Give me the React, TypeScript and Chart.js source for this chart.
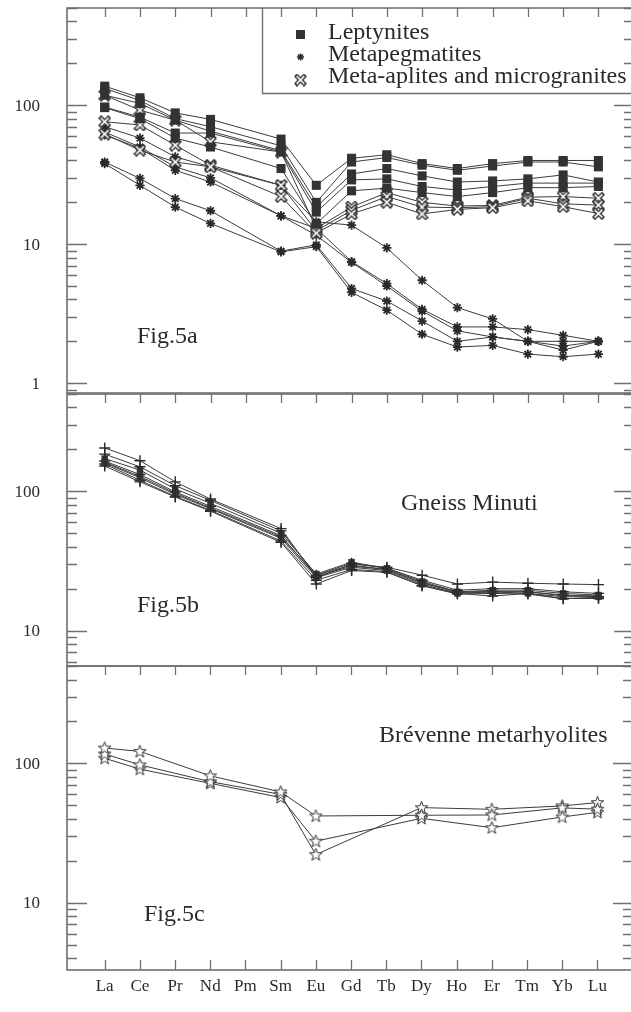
import React, { useEffect, useRef } from 'react';
import { Chart, registerables } from 'chart.js';
Chart.register(...registerables);

const N = null;

// Rare earth elements (x categories)
const categories = ['La', 'Ce', 'Pr', 'Nd', 'Pm', 'Sm', 'Eu', 'Gd', 'Tb', 'Dy', 'Ho', 'Er', 'Tm', 'Yb', 'Lu'];
const yTickLabels = [1, 10, 100];

// Fig.5a — Leptynites (filled squares)
const lep1 = [137, 113, 88, 79, N, 57, 26.5, 41.5, 44, 38, 35, 38, 40, 40, 40];
const lep2 = [132, 108, 80, 70, N, 51, 20, 39, 42, 37, 34, 36.5, 39, 39, 36];
const lep3 = [118, 103, 78, 65, N, 47, 18.5, 32, 35, 31, 28, 28.5, 29.5, 31.5, 28];
const lep4 = [97, 82, 63, 63, N, 46, 17, 29, 29.5, 26, 24.5, 26, 27.5, 27.5, 27.5];
const lep5 = [96, 80, 58, 50, N, 35, 14, 24.2, 25.3, 23.5, 22, 23.5, 25.5, 25.5, 26];
// Fig.5a — Metapegmatites (asterisks)
const peg1 = [70, 58, 42.5, 36, N, 26.5, 14.5, 13.7, 9.4, 5.5, 3.5, 2.9, 2.0, 1.73, 2.0];
const peg2 = [64, 50, 36, 30, N, 16, 13, 7.5, 5.2, 3.4, 2.54, 2.54, 2.43, 2.21, 2.0];
const peg3 = [61, 49, 34, 28, N, 16, 11.6, 7.4, 5.0, 3.3, 2.38, 2.15, 2.0, 2.0, 2.0];
const peg4 = [39, 29.7, 21.3, 17.4, N, 8.9, 9.9, 4.8, 3.9, 2.8, 2.0, 2.15, 2.0, 1.85, 2.0];
const peg5 = [38, 26.5, 18.5, 14.1, N, 8.8, 9.6, 4.5, 3.35, 2.25, 1.82, 1.87, 1.62, 1.55, 1.62];
// Fig.5a — Meta-aplites and microgranites (hollow crosses)
const apl1 = [62, 47.4, 39, 36, N, 22, 12, 16.5, 20, 16.5, 17.8, 18.3, 20.5, 18.6, 16.6];
const apl2 = [76, 72, 51.5, 37, N, 26.5, 12.5, 17.5, 22, 18.5, 18.3, 18.6, 21.4, 19.5, 19.1];
const apl3 = [118, 92, 78, 54.5, N, 46, 13, 18.5, 23.5, 20, 18.8, 19, 21.8, 22, 21.4];

// Fig.5b — Gneiss Minuti
const gn1 = [205, 166, 117, 88, N, 54, 24, 30, 28.5, 25, 21.6, 22.3, 21.9, 21.6, 21.4];
const gn2 = [185, 150, 110, 86, N, 52, 25, 30.5, 28, 23, 19.5, 20, 20, 19, 18.5];
const gn3 = [172, 142, 104, 82, N, 50, 25.5, 31, 28, 22.5, 19, 19.5, 19.5, 18.5, 18];
const gn4 = [165, 132, 99, 78, N, 48, 24.5, 29, 27.5, 22, 19, 19, 19, 18, 17.5];
const gn5 = [160, 125, 95, 75, N, 46, 24, 28.5, 27, 21.5, 18.5, 19, 18.5, 17.5, 17.5];
const gn6 = [157, 120, 92, 73, N, 44, 23, 27.5, 26.5, 21, 18.5, 17.7, 18.5, 17, 17];
const gn7 = [152, 117, 91, 72, N, 43, 21.6, 27, 26.2, 21, 18.3, 18.5, 18.3, 16.9, 17.4];
const gn8 = [162, 128, 97, 76, N, 47, 25, 29.5, 27.5, 22, 18.8, 19, 19, 17.8, 17.8];

// Fig.5c — Brévenne metarhyolites (hollow stars)
const brv1 = [129, 122, N, 81.5, N, 62.5, 42, N, N, 42.5, N, 42.7, N, 48, 47];
const brv2 = [117, 97.7, N, 74, N, 60, 22.2, N, N, 48.2, N, 46.9, N, 49.6, 52.4];
const brv3 = [109, 91, N, 72, N, 57, 27.7, N, N, 40.4, N, 34.6, N, 41.3, 44.6];

const legendLabels = ['Leptynites', 'Metapegmatites', 'Meta-aplites and microgranites'];

const CANVAS_W = 641;
const CANVAS_H = 1012;
const PLOT_LEFT = 67;
const PLOT_RIGHT = 638;
const X_MIN = -1.07;
const X_MAX = 15.01;
const INK = '#2a2a2a';
const LINE = '#3c3c3c';
const FRAME = '#707070';
const SERIF = '"Liberation Serif", "Times New Roman", serif';

function makeHollowX(): HTMLCanvasElement {
  const c = document.createElement('canvas');
  c.width = 13;
  c.height = 13;
  const g = c.getContext('2d')!;
  g.lineCap = 'square';
  g.strokeStyle = '#333';
  g.lineWidth = 4.4;
  g.beginPath();
  g.moveTo(3, 3); g.lineTo(10, 10);
  g.moveTo(10, 3); g.lineTo(3, 10);
  g.stroke();
  g.strokeStyle = '#fff';
  g.lineWidth = 1.6;
  g.beginPath();
  g.moveTo(3.2, 3.2); g.lineTo(9.8, 9.8);
  g.moveTo(9.8, 3.2); g.lineTo(3.2, 9.8);
  g.stroke();
  return c;
}

function makeHollowStar(): HTMLCanvasElement {
  const c = document.createElement('canvas');
  c.width = 15;
  c.height = 15;
  const g = c.getContext('2d')!;
  const cx = 7.5, cy = 7.8, ro = 6.6, ri = 2.7;
  g.beginPath();
  for (let k = 0; k < 10; k++) {
    const r = k % 2 === 0 ? ro : ri;
    const a = -Math.PI / 2 + (k * Math.PI) / 5;
    const px = cx + r * Math.cos(a), py = cy + r * Math.sin(a);
    if (k === 0) g.moveTo(px, py); else g.lineTo(px, py);
  }
  g.closePath();
  g.fillStyle = '#fff';
  g.fill();
  g.strokeStyle = '#333';
  g.lineWidth = 1;
  g.stroke();
  return c;
}

function toPoints(arr: (number | null)[]) {
  return arr
    .map((v, i) => (v == null ? null : { x: i, y: v }))
    .filter((p) => p !== null) as { x: number; y: number }[];
}

function series(arr: (number | null)[], marker: any) {
  return {
    data: toPoints(arr),
    borderColor: LINE,
    borderWidth: 1,
    fill: false,
    tension: 0,
    ...marker,
  };
}

function drawText(ctx: CanvasRenderingContext2D, text: string, x: number, y: number, size: number) {
  ctx.font = `${size}px ${SERIF}`;
  ctx.fillStyle = INK;
  ctx.textAlign = 'left';
  ctx.textBaseline = 'alphabetic';
  ctx.fillText(text, x, y);
}

type Panel = {
  id: string;
  top: number;
  bottom: number;
  yMin: number;
  yMax: number;
  bottomTicks: boolean;
  xLabels: boolean;
  datasets: any[];
  extra: (ctx: CanvasRenderingContext2D, chart: any) => void;
};

function decorPlugin(panel: Panel) {
  return {
    id: 'decor' + panel.id,
    afterDraw(chart: any) {
      const { ctx, chartArea: a, scales } = chart;
      const xs = scales.x;
      const ys = scales.y;
      ctx.save();
      panel.extra(ctx, chart);
      // minor and major y ticks, both sides, pointing inward
      ctx.strokeStyle = FRAME;
      ctx.lineWidth = 1.3;
      for (const dec of [0.1, 1, 10, 100, 1000]) {
        for (let m = 1; m <= 9; m++) {
          const v = m * dec;
          if (v < panel.yMin || v > panel.yMax) continue;
          const y = Math.round(ys.getPixelForValue(v)) + 0.5;
          const len = m === 1 ? 20 : 10;
          ctx.beginPath();
          ctx.moveTo(a.left, y); ctx.lineTo(a.left + len, y);
          ctx.moveTo(a.right - len, y); ctx.lineTo(a.right, y);
          ctx.stroke();
        }
      }
      // x category ticks
      categories.forEach((_, i) => {
        const x = Math.round(xs.getPixelForValue(i)) + 0.5;
        ctx.beginPath();
        ctx.moveTo(x, a.top); ctx.lineTo(x, a.top + 9);
        if (panel.bottomTicks) { ctx.moveTo(x, a.bottom); ctx.lineTo(x, a.bottom - 10); }
        ctx.stroke();
      });
      // frame
      ctx.lineWidth = 1.6;
      ctx.strokeRect(a.left, a.top, a.right - a.left, a.bottom - a.top);
      // y labels
      ctx.font = `17px ${SERIF}`;
      ctx.fillStyle = INK;
      ctx.textAlign = 'right';
      ctx.textBaseline = 'middle';
      for (const v of yTickLabels) {
        if (v < panel.yMin || v > panel.yMax) continue;
        ctx.fillText(String(v), 40, ys.getPixelForValue(v) + 1);
      }
      if (panel.xLabels) {
        ctx.textAlign = 'center';
        ctx.textBaseline = 'middle';
        categories.forEach((c, i) => {
          ctx.fillText(c, xs.getPixelForValue(i), 987);
        });
      }
      ctx.restore();
    },
  };
}

function buildConfig(panel: Panel): any {
  return {
    type: 'line',
    data: { datasets: panel.datasets },
    options: {
      animation: false,
      responsive: false,
      events: [],
      layout: {
        padding: {
          left: PLOT_LEFT,
          right: CANVAS_W - PLOT_RIGHT,
          top: panel.top,
          bottom: CANVAS_H - panel.bottom,
        },
      },
      plugins: { legend: { display: false }, tooltip: { enabled: false } },
      scales: {
        x: { type: 'linear', display: false, min: X_MIN, max: X_MAX },
        y: { type: 'logarithmic', display: false, min: panel.yMin, max: panel.yMax },
      },
    },
    plugins: [decorPlugin(panel)],
  };
}

export default function App() {
  const refA = useRef<HTMLCanvasElement>(null);
  const refB = useRef<HTMLCanvasElement>(null);
  const refC = useRef<HTMLCanvasElement>(null);

  useEffect(() => {
    const hollowX = makeHollowX();
    const hollowStar = makeHollowStar();
    const square = { pointStyle: 'rect', pointRadius: 6.4, pointBackgroundColor: '#333', pointBorderColor: '#333', pointBorderWidth: 0 };
    const asterisk = { pointStyle: 'star', pointRadius: 4.6, pointBorderColor: '#2a2a2a', pointBorderWidth: 1.8, pointBackgroundColor: '#2a2a2a' };
    const xMark = { pointStyle: hollowX, pointRadius: 6 };
    const plus = { pointStyle: 'cross', pointRadius: 5.5, pointBorderColor: '#2a2a2a', pointBorderWidth: 1.4 };
    const smallSquare = { pointStyle: 'rect', pointRadius: 4.6, pointBackgroundColor: '#333', pointBorderColor: '#333', pointBorderWidth: 0 };
    const star = { pointStyle: hollowStar, pointRadius: 7 };

    const panelA: Panel = {
      id: 'A', top: 8, bottom: 393, yMin: 0.85, yMax: 500, bottomTicks: false, xLabels: false,
      datasets: [
        series(lep1, square), series(lep2, square), series(lep3, square), series(lep4, square), series(lep5, square),
        series(apl1, xMark), series(apl2, xMark), series(apl3, xMark),
        series(peg1, asterisk), series(peg2, asterisk), series(peg3, asterisk), series(peg4, asterisk), series(peg5, asterisk),
      ],
      extra: (ctx) => {
        // legend box
        ctx.fillStyle = '#fff';
        ctx.fillRect(262, 8, PLOT_RIGHT - 262, 85);
        ctx.strokeStyle = FRAME;
        ctx.lineWidth = 1.4;
        ctx.beginPath();
        ctx.moveTo(262.5, 8); ctx.lineTo(262.5, 93.5); ctx.lineTo(PLOT_RIGHT, 93.5);
        ctx.stroke();
        // legend markers
        ctx.fillStyle = '#333';
        ctx.fillRect(296, 30, 9, 9);
        ctx.strokeStyle = '#2a2a2a';
        ctx.lineWidth = 1.5;
        const ax = 300.5, ay = 57, r = 3.6;
        ctx.beginPath();
        for (let k = 0; k < 4; k++) {
          const ang = (k * Math.PI) / 4;
          ctx.moveTo(ax - r * Math.cos(ang), ay - r * Math.sin(ang));
          ctx.lineTo(ax + r * Math.cos(ang), ay + r * Math.sin(ang));
        }
        ctx.stroke();
        ctx.drawImage(hollowX, 300.5 - 6.5, 80 - 6.5);
        drawText(ctx, legendLabels[0], 328, 39, 24);
        drawText(ctx, legendLabels[1], 328, 61, 24);
        drawText(ctx, legendLabels[2], 328, 83, 24);
        drawText(ctx, 'Fig.5a', 137, 343, 24);
      },
    };

    const panelB: Panel = {
      id: 'B', top: 394, bottom: 666, yMin: 5.57, yMax: 500, bottomTicks: false, xLabels: false,
      datasets: [
        series(gn1, plus), series(gn2, plus), series(gn3, smallSquare), series(gn4, plus),
        series(gn5, smallSquare), series(gn6, plus), series(gn7, plus), series(gn8, smallSquare),
      ],
      extra: (ctx) => {
        drawText(ctx, 'Gneiss Minuti', 401, 510, 24);
        drawText(ctx, 'Fig.5b', 137, 612, 24);
      },
    };

    const panelC: Panel = {
      id: 'C', top: 666, bottom: 970, yMin: 3.3, yMax: 500, bottomTicks: true, xLabels: true,
      datasets: [series(brv1, star), series(brv2, star), series(brv3, star)],
      extra: (ctx) => {
        drawText(ctx, 'Brévenne metarhyolites', 379, 742, 24);
        drawText(ctx, 'Fig.5c', 144, 921, 24);
      },
    };

    const charts = [
      new Chart(refA.current!, buildConfig(panelA)),
      new Chart(refB.current!, buildConfig(panelB)),
      new Chart(refC.current!, buildConfig(panelC)),
    ];
    return () => charts.forEach((c) => c.destroy());
  }, []);

  const canvasStyle: React.CSSProperties = { position: 'absolute', left: 0, top: 0, width: CANVAS_W, height: CANVAS_H };
  return (
    <div style={{ position: 'absolute', left: 0, top: 0, width: 631, height: 1012, overflow: 'hidden', background: '#fff' }}>
      <canvas ref={refA} width={CANVAS_W} height={CANVAS_H} style={canvasStyle} />
      <canvas ref={refB} width={CANVAS_W} height={CANVAS_H} style={canvasStyle} />
      <canvas ref={refC} width={CANVAS_W} height={CANVAS_H} style={canvasStyle} />
    </div>
  );
}
